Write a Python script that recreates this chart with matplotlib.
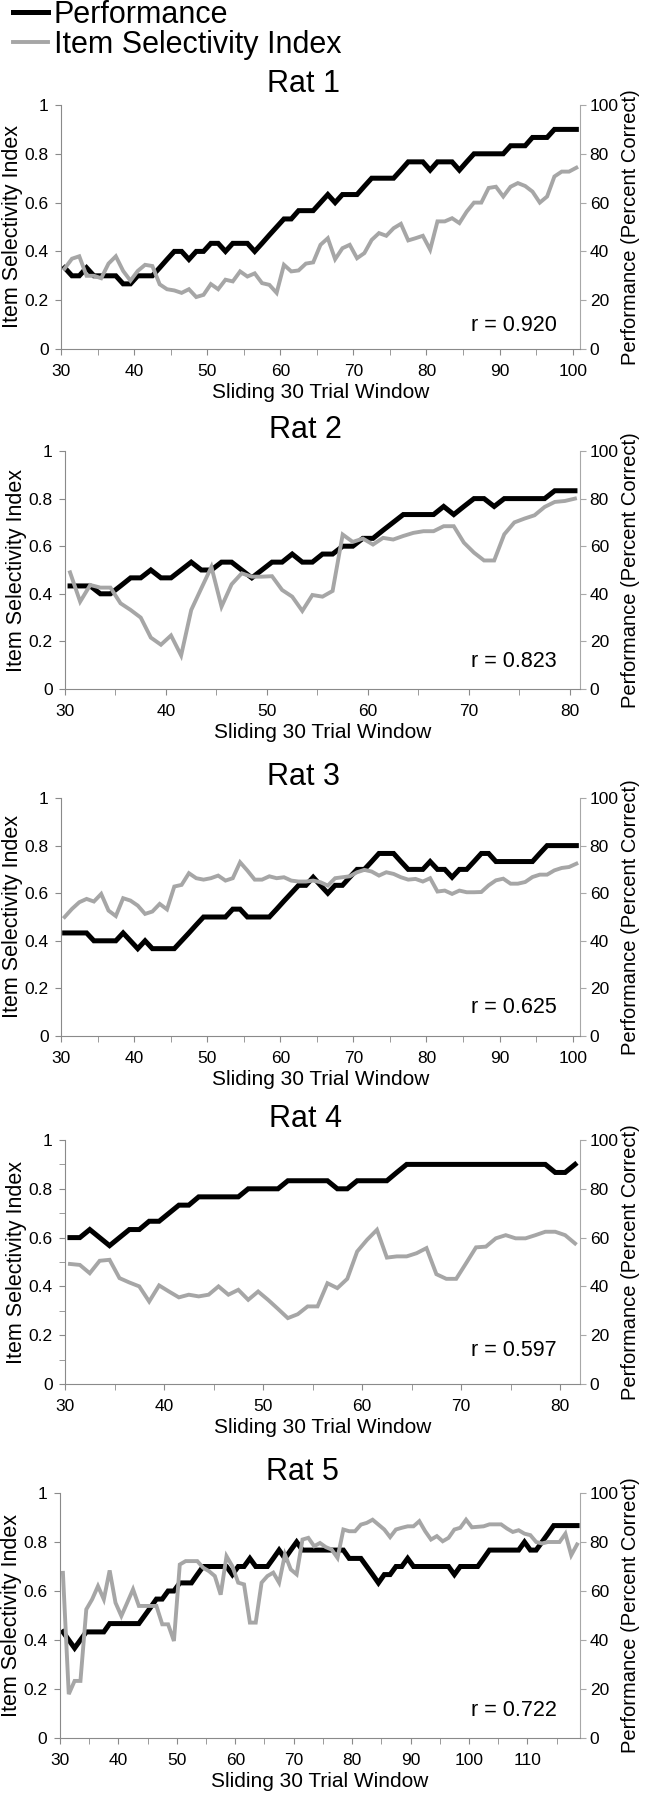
import numpy as np
import matplotlib
matplotlib.use('Agg')
import matplotlib.pyplot as plt
from matplotlib.ticker import MultipleLocator, FuncFormatter

plt.rcParams['font.family'] = ['Liberation Sans', 'DejaVu Sans']

# first sliding window of every rat starts at trial 30
first_window = 30

rat_names = ['Rat 1', 'Rat 2', 'Rat 3', 'Rat 4', 'Rat 5']
r_values = [0.920, 0.823, 0.625, 0.597, 0.722]

# performance (percent correct) per window
rat1_perf = [33.3, 30.0, 30.0, 33.3, 30.0, 30.0, 30.0, 30.0, 26.7, 26.7,
             30.0, 30.0, 30.0, 33.3, 36.7, 40.0, 40.0, 36.7, 40.0, 40.0,
             43.3, 43.3, 40.0, 43.3, 43.3, 43.3, 40.0, 43.3, 46.7, 50.0,
             53.3, 53.3, 56.7, 56.7, 56.7, 60.0, 63.3, 60.0, 63.3, 63.3,
             63.3, 66.7, 70.0, 70.0, 70.0, 70.0, 73.3, 76.7, 76.7, 76.7,
             73.3, 76.7, 76.7, 76.7, 73.3, 76.7, 80.0, 80.0, 80.0, 80.0,
             80.0, 83.3, 83.3, 83.3, 86.7, 86.7, 86.7, 90.0, 90.0, 90.0,
             90.0]
rat2_perf = [43.3, 43.3, 43.3, 40.0, 40.0, 43.3, 46.7, 46.7, 50.0, 46.7,
             46.7, 50.0, 53.3, 50.0, 50.0, 53.3, 53.3, 50.0, 46.7, 50.0,
             53.3, 53.3, 56.7, 53.3, 53.3, 56.7, 56.7, 60.0, 60.0, 63.3,
             63.3, 66.7, 70.0, 73.3, 73.3, 73.3, 73.3, 76.7, 73.3, 76.7,
             80.0, 80.0, 76.7, 80.0, 80.0, 80.0, 80.0, 80.0, 83.3, 83.3,
             83.3]
rat3_perf = [43.3, 43.3, 43.3, 43.3, 40.0, 40.0, 40.0, 40.0, 43.3, 40.0,
             36.7, 40.0, 36.7, 36.7, 36.7, 36.7, 40.0, 43.3, 46.7, 50.0,
             50.0, 50.0, 50.0, 53.3, 53.3, 50.0, 50.0, 50.0, 50.0, 53.3,
             56.7, 60.0, 63.3, 63.3, 66.7, 63.3, 60.0, 63.3, 63.3, 66.7,
             70.0, 70.0, 73.3, 76.7, 76.7, 76.7, 73.3, 70.0, 70.0, 70.0,
             73.3, 70.0, 70.0, 66.7, 70.0, 70.0, 73.3, 76.7, 76.7, 73.3,
             73.3, 73.3, 73.3, 73.3, 73.3, 76.7, 80.0, 80.0, 80.0, 80.0,
             80.0]
rat4_perf = [60.0, 60.0, 63.3, 60.0, 56.7, 60.0, 63.3, 63.3, 66.7, 66.7,
             70.0, 73.3, 73.3, 76.7, 76.7, 76.7, 76.7, 76.7, 80.0, 80.0,
             80.0, 80.0, 83.3, 83.3, 83.3, 83.3, 83.3, 80.0, 80.0, 83.3,
             83.3, 83.3, 83.3, 86.7, 90.0, 90.0, 90.0, 90.0, 90.0, 90.0,
             90.0, 90.0, 90.0, 90.0, 90.0, 90.0, 90.0, 90.0, 90.0, 86.7,
             86.7, 90.0]
rat5_perf = [43.3, 40.0, 36.7, 40.0, 43.3, 43.3, 43.3, 43.3, 46.7, 46.7,
             46.7, 46.7, 46.7, 46.7, 50.0, 53.3, 56.7, 56.7, 60.0, 60.0,
             63.3, 63.3, 63.3, 66.7, 70.0, 70.0, 70.0, 70.0, 70.0, 66.7,
             70.0, 70.0, 73.3, 70.0, 70.0, 70.0, 73.3, 76.7, 73.3, 76.7,
             80.0, 76.7, 76.7, 76.7, 76.7, 76.7, 76.7, 76.7, 76.7, 73.3,
             73.3, 73.3, 70.0, 66.7, 63.3, 66.7, 66.7, 70.0, 70.0, 73.3,
             70.0, 70.0, 70.0, 70.0, 70.0, 70.0, 70.0, 66.7, 70.0, 70.0,
             70.0, 70.0, 73.3, 76.7, 76.7, 76.7, 76.7, 76.7, 76.7, 80.0,
             76.7, 76.7, 80.0, 83.3, 86.7, 86.7, 86.7, 86.7, 86.7]

# item selectivity index per window
rat1_isi = [0.33, 0.37, 0.38, 0.30, 0.30, 0.29, 0.35, 0.38, 0.32, 0.28,
            0.32, 0.345, 0.34, 0.265, 0.245, 0.24, 0.23, 0.245, 0.213, 0.222,
            0.266, 0.245, 0.284, 0.277, 0.318, 0.297, 0.31, 0.27, 0.263, 0.23,
            0.345, 0.318, 0.322, 0.35, 0.355, 0.427, 0.454, 0.368, 0.413, 0.427,
            0.372, 0.393, 0.447, 0.475, 0.464, 0.495, 0.513, 0.445, 0.454, 0.464,
            0.407, 0.523, 0.523, 0.536, 0.516, 0.563, 0.60, 0.60, 0.66, 0.665,
            0.625, 0.665, 0.68, 0.668, 0.645, 0.60, 0.625, 0.707, 0.727, 0.727,
            0.743]
rat2_isi = [0.49, 0.367, 0.437, 0.426, 0.426, 0.36, 0.332, 0.30, 0.216, 0.186,
            0.225, 0.141, 0.332, 0.423, 0.513, 0.346, 0.44, 0.486, 0.472, 0.472,
            0.474, 0.416, 0.388, 0.328, 0.395, 0.388, 0.412, 0.649, 0.618, 0.632,
            0.607, 0.635, 0.628, 0.643, 0.656, 0.663, 0.663, 0.684, 0.684, 0.615,
            0.573, 0.54, 0.54, 0.65, 0.70, 0.716, 0.73, 0.765, 0.786, 0.79,
            0.80]
rat3_isi = [0.50, 0.534, 0.562, 0.576, 0.565, 0.597, 0.527, 0.504, 0.579, 0.569,
            0.548, 0.513, 0.523, 0.555, 0.532, 0.628, 0.635, 0.684, 0.663, 0.657,
            0.663, 0.674, 0.653, 0.663, 0.73, 0.695, 0.657, 0.657, 0.671, 0.663,
            0.667, 0.653, 0.649, 0.649, 0.653, 0.646, 0.632, 0.663, 0.667, 0.671,
            0.688, 0.698, 0.691, 0.674, 0.688, 0.681, 0.667, 0.657, 0.66, 0.649,
            0.663, 0.607, 0.611, 0.597, 0.611, 0.604, 0.604, 0.605, 0.633, 0.654,
            0.661, 0.64, 0.64, 0.647, 0.668, 0.678, 0.678, 0.696, 0.706, 0.71,
            0.724]
rat4_isi = [0.492, 0.488, 0.454, 0.505, 0.509, 0.434, 0.416, 0.40, 0.338, 0.404,
            0.379, 0.355, 0.366, 0.359, 0.366, 0.40, 0.366, 0.386, 0.345, 0.379,
            0.345, 0.308, 0.27, 0.286, 0.318, 0.318, 0.413, 0.393, 0.431, 0.543,
            0.591, 0.632, 0.518, 0.523, 0.523, 0.536, 0.557, 0.45, 0.431, 0.431,
            0.495, 0.56, 0.563, 0.597, 0.61, 0.597, 0.597, 0.61, 0.624, 0.624,
            0.61, 0.576]
rat5_isi = [0.674, 0.179, 0.233, 0.233, 0.525, 0.566, 0.62, 0.566, 0.684, 0.552,
            0.498, 0.552, 0.607, 0.539, 0.539, 0.539, 0.539, 0.464, 0.464, 0.396,
            0.708, 0.722, 0.722, 0.722, 0.695, 0.681, 0.661, 0.585, 0.742, 0.701,
            0.634, 0.627, 0.471, 0.471, 0.634, 0.661, 0.675, 0.634, 0.749, 0.688,
            0.668, 0.81, 0.817, 0.783, 0.796, 0.779, 0.769, 0.735, 0.851, 0.844,
            0.844, 0.871, 0.878, 0.891, 0.871, 0.851, 0.82, 0.851, 0.858, 0.864,
            0.864, 0.885, 0.844, 0.81, 0.824, 0.803, 0.817, 0.851, 0.858, 0.891,
            0.86, 0.862, 0.864, 0.872, 0.872, 0.872, 0.855, 0.841, 0.848, 0.834,
            0.828, 0.80, 0.794, 0.80, 0.80, 0.80, 0.834, 0.746, 0.79]

GREY = '#a6a6a6'
AXIS_GREY = '#8a8a8a'
W, H = 645, 1800


def panel(fig, box, name, perf, isi, r, r_y, minor_y):
    left, top, right, bottom = box
    ax = fig.add_axes([left / W, 1 - bottom / H, (right - left) / W, (bottom - top) / H])
    ax2 = ax.twinx()

    n = len(perf)
    windows = np.arange(first_window, first_window + n)
    # excel style: points sit in the middle of each category
    lp, = ax2.plot(windows + 0.5, perf, color='black', lw=3.6,
                   solid_joinstyle='miter', label='Performance')
    li, = ax.plot(windows + 0.5, isi, color=GREY, lw=2.8,
                  solid_joinstyle='miter', label='Item Selectivity Index')
    # grey series drawn above the black one
    ax.set_zorder(ax2.get_zorder() + 1)
    ax.patch.set_visible(False)

    ax.set_xlim(first_window, first_window + n)
    ax.set_ylim(0, 1)
    ax2.set_ylim(0, 100)
    ax.xaxis.set_major_locator(MultipleLocator(10))
    ax.xaxis.set_minor_locator(MultipleLocator(5))
    ax.yaxis.set_major_locator(MultipleLocator(0.2))
    if minor_y:
        ax.yaxis.set_minor_locator(MultipleLocator(0.1))
    ax.yaxis.set_major_formatter(FuncFormatter(lambda v, p: '%g' % round(v, 1)))
    ax2.yaxis.set_major_locator(MultipleLocator(20))

    for s in ['top', 'right']:
        ax.spines[s].set_visible(False)
    for s in ['top', 'left', 'bottom']:
        ax2.spines[s].set_visible(False)
    for s in ['left', 'bottom']:
        ax.spines[s].set_color(AXIS_GREY)
    ax2.spines['right'].set_color('#a8a8a8')

    ax.tick_params(axis='x', which='both', direction='out', length=4,
                   color=AXIS_GREY, labelsize=12.5, pad=7)
    ax.tick_params(axis='y', which='both', direction='out', length=4,
                   color=AXIS_GREY, labelsize=12.5, pad=5)
    ax2.tick_params(axis='y', direction='out', length=4, color='#a8a8a8',
                    labelsize=12.5, pad=3)

    ax.set_title(name, fontsize=22, pad=9.6, x=0.467)
    ax.set_xlabel('Sliding 30 Trial Window', fontsize=15, labelpad=3)
    ax.set_ylabel('Item Selectivity Index', fontsize=15.5)
    ax2.set_ylabel('Performance (Percent Correct)', fontsize=14.5)
    ax.yaxis.set_label_coords(-0.073, 0.5)
    ax2.yaxis.set_label_coords(1.079, 0.5)

    ax.text(0.955, r_y, 'r = %.3f' % r, transform=ax.transAxes,
            ha='right', va='center', fontsize=15.5)
    return lp, li


def main():
    fig = plt.figure(figsize=(W / 100, H / 100), dpi=100)

    perfs = [rat1_perf, rat2_perf, rat3_perf, rat4_perf, rat5_perf]
    isis = [rat1_isi, rat2_isi, rat3_isi, rat4_isi, rat5_isi]
    # left, top, right, bottom of each plot area in pixels
    boxes = [(61, 105, 580, 349), (65, 451, 580, 689), (61, 798, 580, 1036),
             (65, 1140, 580, 1384), (60, 1493, 580, 1738)]
    r_pos = [0.098, 0.115, 0.118, 0.139, 0.114]

    handles = None
    for i in range(5):
        h = panel(fig, boxes[i], rat_names[i], perfs[i], isis[i], r_values[i],
                  r_pos[i], minor_y=(i == 3))
        if handles is None:
            handles = h

    fig.legend(handles=list(handles), loc='upper left', bbox_to_anchor=(0.0197, 1.0),
               frameon=False, fontsize=22, handlelength=1.16, handletextpad=0.18,
               labelspacing=0.0, borderaxespad=0, borderpad=0)

    fig.savefig('out.png', dpi=100)


if __name__ == "__main__":
    main()
